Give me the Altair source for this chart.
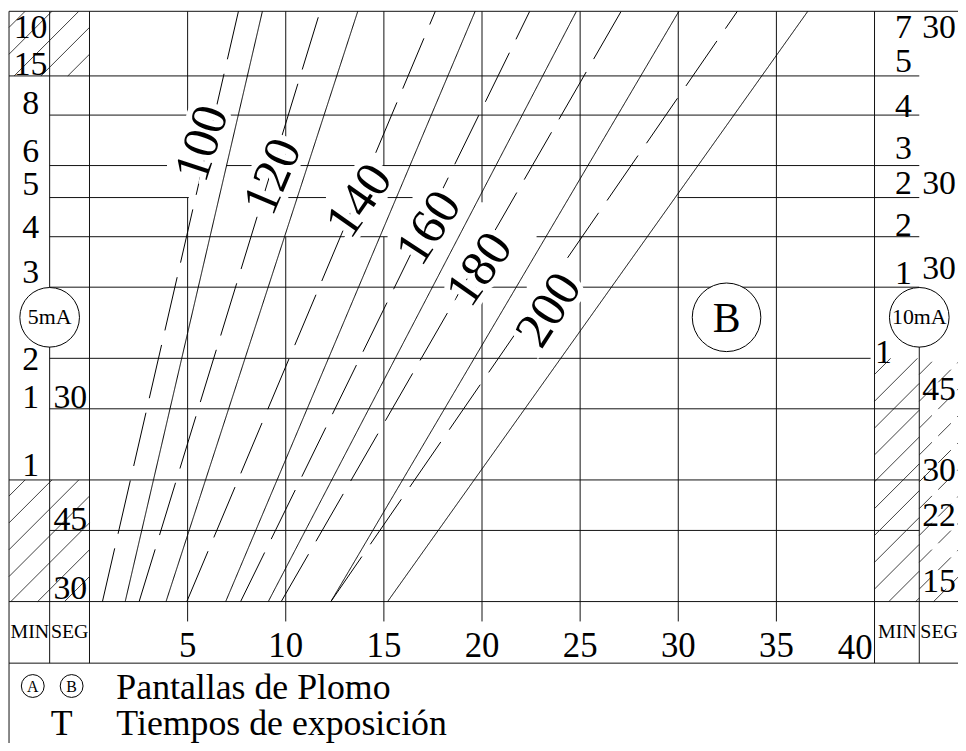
import math
import altair as alt
import pandas as pd

# ------------------------------------------------------------------ data
# x: espesor (0-40), y: tiempo de exposición en segundos (escala 10 mA, log)
T_MIN, T_MAX = 15.0, 433.6
E_MIN, E_MAX = 0.0, 40.0

# exposure curves: thickness reached at 15 s and at the top of the chart
KV      = [100, 100, 120, 120, 140, 140, 160, 160, 180, 180, 200, 200]
TRAZO   = ["discontinua", "continua"] * 6
ESP_15S = [0.66, 1.82, 2.53, 3.90, 4.96, 6.94, 7.70, 9.11, 9.77, 12.30, 12.30, 15.19]
ESP_TOP = [7.59, 8.81, 11.75, 13.67, 17.62, 19.65, 22.43, 24.81, 27.09, 30.03, 33.01, 36.60]

# kV labels (centre, data units)
KV_LAB     = ["100", "120", "140", "160", "180", "200"]
KV_LAB_ESP = [5.77, 9.37, 13.77, 17.32, 19.90, 23.44]
KV_LAB_T   = [204.0, 169.0, 147.0, 126.0, 99.5, 78.9]

# x ticks and their labels
ESP_TICKS = [5, 10, 15, 20, 25, 30, 35]
ESP_LABELS = ["5", "10", "15", "20", "25", "30", "35", "40"]
ESP_LABEL_VALUES = [5, 10, 15, 20, 25, 30, 35, 40]

# horizontal rules: time, from thickness, to thickness
H_T  = [T_MAX, 300, 240, 240, 180, 180, 150, 150, 150, 150, 120, 120, 90, 90, 60, 45, 30, 22.5, 15, 10.56]
H_E0 = [-4.10, -4.10, -2.03, 7.19, -2.03, 6.99, -2.03, 10.13, 15.19, 29.97, -2.03, 22.78, -2.03, 24.96, -2.03, -2.03, -4.10, -2.03, -4.10, -4.10]
H_E1 = [44.30, 42.28, 5.06, 42.28, 3.95, 42.28, 5.06, 12.05, 16.46, 42.28, 15.19, 42.28, 22.28, 42.28, 39.80, 42.28, 42.28, 42.28, 44.30, 44.30]

# vertical rules: thickness, from time, to time
V_E  = [-4.10, -2.03, 0, 5, 5, 10, 10, 15, 15, 20, 20, 25, 30, 35, 40, 42.28]
V_T0 = [T_MAX, T_MAX, T_MAX, T_MAX, 150, T_MAX, 120, T_MAX, 120, T_MAX, 90, T_MAX, T_MAX, T_MAX, T_MAX, 90]
V_T1 = [6.5, 10.56, 10.56, 240, 15, 150, 15, 180, 15, 146, 15, 15, 15, 15, 10.56, 10.56]

# left scale (5 mA) and right scale (10 mA): text and baseline time
IZQ_MIN   = ["10", "15", "8", "6", "5", "4", "3", "2", "1", "1"]
IZQ_MIN_T = [372, 302, 242, 184, 152, 119, 92, 56.1, 45.3, 30.6]
IZQ_SEG   = ["30", "45", "30"]
IZQ_SEG_T = [45.3, 22.54, 15.26]
DER_MIN   = ["7", "5", "4", "3", "2", "2", "1"]
DER_MIN_T = [372, 307, 238, 186.5, 153, 120.6, 91.9]
DER_SEG   = ["30", "30", "30", "45", "30", "22", "15"]
DER_SEG_T = [372, 153, 94.5, 47.4, 29.8, 23.07, 15.87]

# hatched zones: thickness range, time range
HATCH = [(-4.10, 0.0, 300, T_MAX), (-4.10, 0.0, 15, 30), (40.0, 42.28, 15, 60)]
HATCH_DASH = [(42.28, 44.30, 15, 60)]

# ------------------------------------------------------------------ scales
W, H = 790, 594
LN = math.log(T_MAX / T_MIN)
X_SC = alt.Scale(domain=[E_MIN, E_MAX], nice=False, zero=False)
Y_SC = alt.Scale(type="log", domain=[T_MIN, T_MAX], nice=False)
FONT = "Liberation Serif"
HATCH_STEP = 27


def px_x(e):
    return (e - E_MIN) / (E_MAX - E_MIN) * W


def px_y(t):
    return H * math.log(T_MAX / t) / LN


def e_of(p):
    return E_MIN + p / W * (E_MAX - E_MIN)


def t_of(p):
    return T_MAX * math.exp(-p * LN / H)


def X(f):
    return alt.X(f"{f}:Q", scale=X_SC, axis=None)


def Y(f):
    return alt.Y(f"{f}:Q", scale=Y_SC, axis=None)


def hatch_rows(zones, step):
    rows = []
    for e0, e1, t0, t1 in zones:
        X0, X1 = px_x(e0), px_x(e1)
        Y0, Y1 = px_y(t1), px_y(t0)
        c = X0 + Y0 + step * 0.6
        while c < X1 + Y1:
            xa = max(X0, c - Y1)
            xb = min(X1, c - Y0)
            if xb > xa:
                rows.append({"e0": e_of(xa), "t0": t_of(c - xa),
                             "e1": e_of(xb), "t1": t_of(c - xb)})
            c += step
    return pd.DataFrame(rows)


# ------------------------------------------------------------------ tables
curves = pd.DataFrame(
    [{"kv": k, "trazo": s, "serie": f"{k}-{s}", "esp": e, "t": T_MIN}
     for k, s, e in zip(KV, TRAZO, ESP_15S)] +
    [{"kv": k, "trazo": s, "serie": f"{k}-{s}", "esp": e, "t": T_MAX}
     for k, s, e in zip(KV, TRAZO, ESP_TOP)])
hrules = pd.DataFrame({"t": H_T, "e0": H_E0, "e1": H_E1})
vrules = pd.DataFrame({"e": V_E, "t0": V_T0, "t1": V_T1})

LINE = "#111111"
T_TICK_END = t_of(H + 20)      # tick marks hang 20 px below the plot
T_TICK_LABEL = t_of(H + 56)    # baseline of the thickness labels

hr = alt.Chart(hrules).mark_rule(color=LINE, strokeWidth=1).encode(
    x=X("e0"), x2="e1:Q", y=Y("t"))
vr = alt.Chart(vrules).mark_rule(color=LINE, strokeWidth=1).encode(
    x=X("e"), y=Y("t0"), y2="t1:Q")

tick_df = pd.DataFrame({"e": ESP_TICKS, "t0": T_MIN, "t1": T_TICK_END})
tick_rules = alt.Chart(tick_df).mark_rule(color=LINE, strokeWidth=1).encode(
    x=X("e"), y=Y("t0"), y2="t1:Q")
lab_df = pd.DataFrame({"s": ESP_LABELS, "e": ESP_LABEL_VALUES, "t": T_TICK_LABEL})
tick_labels = alt.Chart(lab_df[lab_df.e < 40]).mark_text(
    font=FONT, fontSize=35, baseline="alphabetic", align="center", color="black").encode(
    x=X("e"), y=Y("t"), text="s:N")
tick_label_40 = alt.Chart(lab_df[lab_df.e == 40]).mark_text(
    font=FONT, fontSize=35, baseline="alphabetic", align="right", color="black",
    dx=-2, dy=2).encode(x=X("e"), y=Y("t"), text="s:N")

hat = alt.Chart(hatch_rows(HATCH, HATCH_STEP)).mark_rule(
    color=LINE, strokeWidth=0.8).encode(x=X("e0"), x2="e1:Q", y=Y("t0"), y2="t1:Q")
hat_d = alt.Chart(hatch_rows(HATCH_DASH, HATCH_STEP)).mark_rule(
    color=LINE, strokeWidth=0.8, strokeDash=[18, 9]).encode(
    x=X("e0"), x2="e1:Q", y=Y("t0"), y2="t1:Q")

lines = alt.Chart(curves).mark_line(color="black", strokeWidth=1).encode(
    x=X("esp"), y=Y("t"), detail="serie:N",
    strokeDash=alt.StrokeDash("trazo:N", legend=None,
                              scale=alt.Scale(domain=["continua", "discontinua"],
                                              range=[[1, 0], [55, 15]])))

# kV labels, each at its own tilt, with a white halo that breaks the lines
KV_ANG = {"100": 288, "120": 293, "140": 305, "160": 303, "180": 305, "200": 303}
kv_layers = []
for s, e, t in zip(KV_LAB, KV_LAB_ESP, KV_LAB_T):
    base = alt.Chart(pd.DataFrame({"s": [s], "e": [e], "t": [t]})).encode(
        x=X("e"), y=Y("t"), text="s:N")
    kv_layers.append(base.mark_text(font=FONT, fontSize=51, angle=KV_ANG[s],
                                    align="center", baseline="middle",
                                    color="white", stroke="white", strokeWidth=12))
    kv_layers.append(base.mark_text(font=FONT, fontSize=51, angle=KV_ANG[s],
                                    align="center", baseline="middle", color="black"))

# circles: 5 mA, B, 10 mA (white filled), legend A/B (radius in px)
circ = pd.DataFrame({"e": [-2.03, 32.46, 42.28, -2.89, -0.91],
                     "t": [75.8, 75.8, 75.8, 9.27, 9.27],
                     "s": ["5mA", "B", "10mA", "A", "B"],
                     "r": [30, 34.5, 30, 11.5, 11.5]})
circ["size"] = (2 * circ["r"]) ** 2
circles = alt.Chart(circ).mark_point(shape="circle", filled=True, fill="white",
                                     stroke="black", strokeWidth=1, opacity=1).encode(
    x=X("e"), y=Y("t"), size=alt.Size("size:Q", scale=None, legend=None))
ctext_small = alt.Chart(circ.iloc[[0, 2]]).mark_text(
    font=FONT, fontSize=22, baseline="middle", align="center", color="black").encode(
    x=X("e"), y=Y("t"), text="s:N")
ctext_b = alt.Chart(circ.iloc[[1]]).mark_text(
    font=FONT, fontSize=42, baseline="middle", align="center", color="black",
    dy=2).encode(x=X("e"), y=Y("t"), text="s:N")
leg_letters = alt.Chart(circ.iloc[[3, 4]]).mark_text(
    font=FONT, fontSize=16, baseline="middle", align="center", color="black",
    dy=1).encode(x=X("e"), y=Y("t"), text="s:N")


def col_text(labels, times, e, size=34, align="center"):
    df = pd.DataFrame({"s": labels, "t": times, "e": [e] * len(labels)})
    return alt.Chart(df).mark_text(font=FONT, fontSize=size, align=align,
                                   baseline="alphabetic", color="black").encode(
        x=X("e"), y=Y("t"), text="s:N")


scale_texts = [
    col_text(IZQ_MIN, IZQ_MIN_T, -3.0),
    col_text(IZQ_SEG, IZQ_SEG_T, -0.98),
    col_text(DER_MIN, DER_MIN_T, 41.47),
    col_text(["1"], [58.4], 40.46),
    col_text(DER_SEG, DER_SEG_T, 43.29),
    col_text(["MIN"], [12.17], -3.04, size=20),
    col_text(["SEG"], [12.17], -1.01, size=20),
    col_text(["MIN"], [12.17], 41.16, size=20),
    col_text(["SEG"], [12.17], 43.29, size=20),
    col_text(["Pantallas de Plomo", "Tiempos de exposición"], [8.62, 7.02], 1.37,
             size=36, align="left"),
    col_text(["T"], [7.02], -1.42, size=36),
]

chart = alt.layer(
    hr, vr, tick_rules, hat, hat_d, lines, circles, ctext_small, ctext_b,
    leg_letters, tick_labels, tick_label_40, *kv_layers, *scale_texts
).properties(
    width=W, height=H,
    padding={"left": 82, "top": 1, "right": 84, "bottom": 140},
    autosize=alt.AutoSizeParams(type="none"),
    background="white",
).configure_view(stroke=None)

chart.save("out.html", embed_options={"renderer": "svg", "actions": False})
